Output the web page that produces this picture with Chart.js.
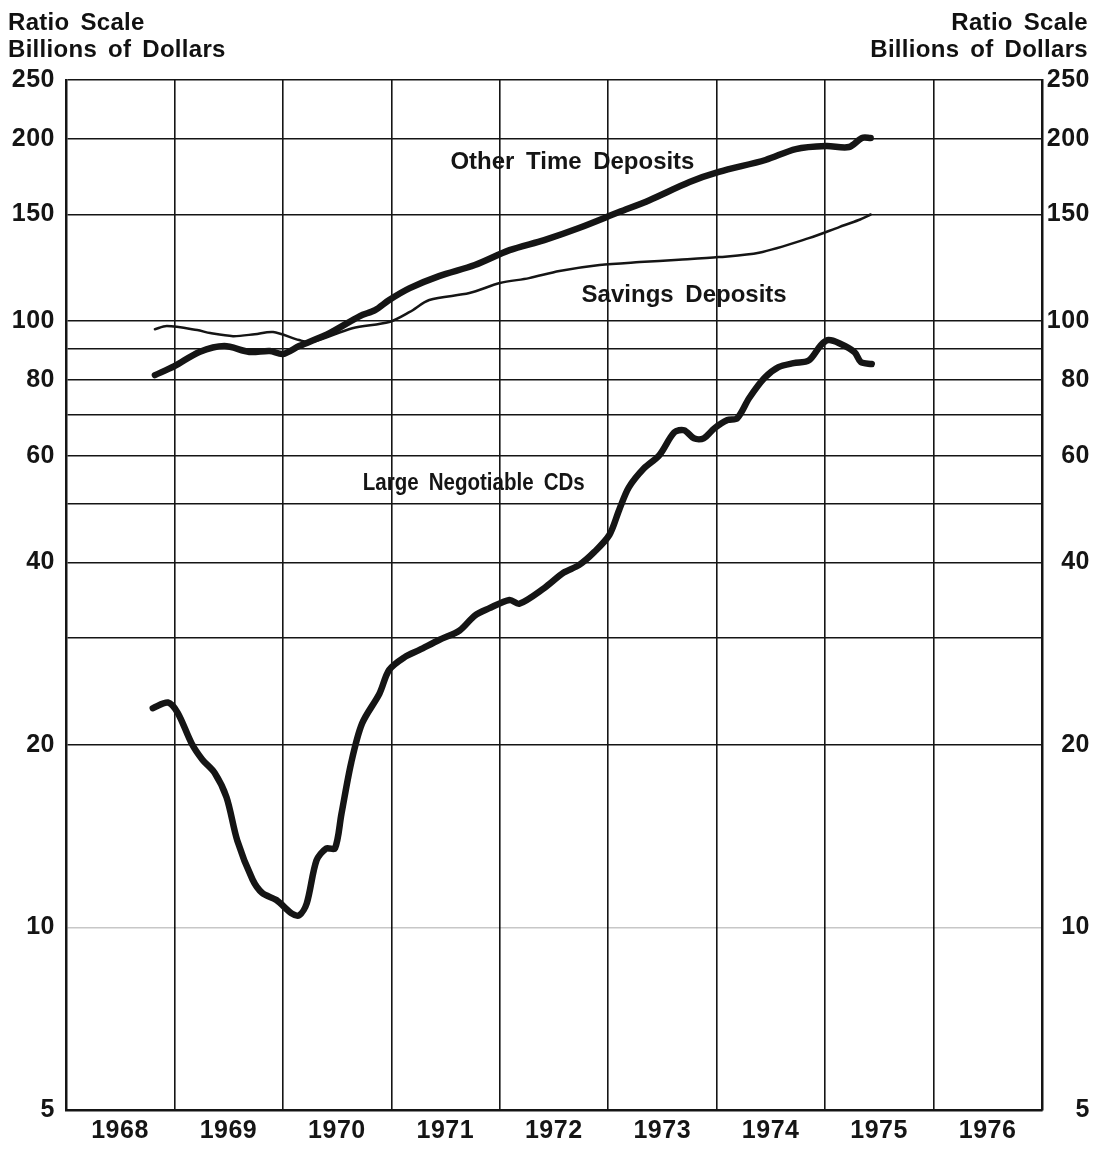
<!DOCTYPE html>
<html>
<head>
<meta charset="utf-8">
<title>Time Deposits at Commercial Banks</title>
<script src="https://cdn.jsdelivr.net/npm/chart.js@4"></script>
<style>
  html, body { margin: 0; padding: 0; background: #fff; }
  #wrap { position: relative; width: 1109px; height: 1157px; }
  .head {
    position: absolute; top: 8px;
    font: bold 24px "Liberation Sans", Arial, sans-serif;
    letter-spacing: 0.3px; word-spacing: 4px; line-height: 27px; color: #111;
  }
  canvas { position: absolute; left: 0; top: 0; }
</style>
</head>
<body>
<div id="wrap">
  <canvas id="chart" width="1109" height="1157"></canvas>
  <div class="head" style="left:8px">Ratio Scale<br>Billions of Dollars</div>
  <div class="head" style="right:21px;text-align:right">Ratio Scale<br>Billions of Dollars</div>
</div>
<script>
const yearLabels = ["1968", "1969", "1970", "1971", "1972", "1973", "1974", "1975", "1976"];
const yGridValues = [5, 10, 20, 30, 40, 50, 60, 70, 80, 90, 100, 150, 200, 250];
const yLabelValues = [5, 10, 20, 40, 60, 80, 100, 150, 200, 250];

// dates as fractions of a year, values in billions of dollars
const otherTimeDates = [1968.82, 1969.00, 1969.23, 1969.46, 1969.69, 1969.88, 1970.00, 1970.15, 1970.43,
  1970.71, 1970.85, 1970.98, 1971.17, 1971.44, 1971.77, 1972.09, 1972.41, 1972.73, 1973.10, 1973.38,
  1973.75, 1974.02, 1974.45, 1974.73, 1975.01, 1975.22, 1975.34, 1975.42];
const otherTimeValues = [81.5, 84.3, 89.0, 91.0, 89.0, 89.3, 88.3, 91.0, 95.6,
  102.0, 104.3, 108.4, 113.4, 118.7, 123.8, 131.0, 136.1, 142.5, 151.4, 158.4,
  169.7, 176.3, 184.5, 192.3, 194.5, 193.8, 200.6, 200.6];

const savingsDates = [1968.82, 1968.93, 1969.21, 1969.33, 1969.54, 1969.74, 1969.91, 1970.15, 1970.27,
  1970.64, 1970.98, 1971.17, 1971.35, 1971.72, 1972.00, 1972.27, 1972.55, 1972.92, 1973.29, 1973.65,
  1974.02, 1974.39, 1974.85, 1975.13, 1975.31, 1975.42];
const savingsValues = [97.0, 98.2, 96.7, 95.6, 94.5, 95.2, 96.0, 93.1, 92.4,
  97.4, 99.7, 103.6, 108.4, 111.3, 115.6, 117.8, 121.0, 123.8, 125.2, 126.3,
  127.6, 129.7, 137.1, 143.0, 146.9, 150.0];

const cdDates = [1968.80, 1968.94, 1969.03, 1969.16, 1969.26, 1969.37, 1969.48, 1969.58, 1969.72, 1969.81,
  1969.94, 1970.08, 1970.15, 1970.22, 1970.31, 1970.40, 1970.48, 1970.54, 1970.63, 1970.73,
  1970.89, 1970.98, 1971.12, 1971.26, 1971.44, 1971.63, 1971.77, 1971.90, 1972.09, 1972.18,
  1972.41, 1972.59, 1972.73, 1972.87, 1973.01, 1973.10, 1973.19, 1973.33, 1973.47, 1973.61,
  1973.70, 1973.79, 1973.88, 1973.98, 1974.10, 1974.19, 1974.30, 1974.44, 1974.57, 1974.71,
  1974.85, 1974.96, 1975.03, 1975.13, 1975.27, 1975.33, 1975.43];
const cdValues = [23.0, 23.5, 22.6, 20.1, 18.9, 18.0, 16.4, 13.9, 12.0, 11.4,
  11.1, 10.55, 10.47, 10.96, 12.9, 13.5, 13.5, 15.4, 18.7, 21.7,
  24.3, 26.6, 27.9, 28.7, 29.8, 30.9, 32.7, 33.6, 34.7, 34.2,
  36.3, 38.5, 39.6, 41.6, 44.4, 48.8, 53.2, 57.2, 60.1, 65.6,
  66.1, 64.1, 64.1, 66.6, 68.7, 69.2, 74.7, 80.6, 84.0, 85.3,
  86.2, 91.3, 93.1, 92.0, 89.0, 85.6, 85.0];

const FONT = '"Liberation Sans", Arial, sans-serif';
const INK = "#151515";

const toPoints = (dates, values) => dates.map((d, i) => ({ x: d, y: values[i] }));

// a little extra spacing, like the original print
const spacing = {
  id: "spacing",
  beforeUpdate(chart) { chart.ctx.letterSpacing = "0.5px"; },
  beforeDraw(chart) { chart.ctx.letterSpacing = "0.5px"; },
};

const seriesNames = {
  id: "seriesNames",
  afterDatasetsDraw(chart) {
    const { ctx, scales } = chart;
    const names = [
      ["Other Time Deposits", 1972.67, 183, 244],
      ["Savings Deposits", 1973.70, 110.5, 214],
      ["Large Negotiable CDs", 1971.76, 54.1, 222],
    ];
    ctx.save();
    ctx.letterSpacing = "0px";
    ctx.wordSpacing = "5px";
    ctx.font = "bold 24px " + FONT;
    ctx.fillStyle = INK;
    ctx.textAlign = "center";
    ctx.textBaseline = "middle";
    names.forEach(([text, x, y, w]) => {
      ctx.fillText(text, scales.x.getPixelForValue(x), scales.y.getPixelForValue(y), w);
    });
    ctx.restore();
  },
};

const yAxis = (position) => ({
  type: "logarithmic",
  position,
  min: 5,
  max: 250,
  afterBuildTicks: (scale) => {
    scale.ticks = yGridValues.map((v) => ({ value: v }));
  },
  afterFit: (scale) => {
    scale.width = position === "left" ? 66 : 48;
  },
  ticks: {
    autoSkip: false,
    padding: position === "left" ? 11 : 5,
    crossAlign: position === "left" ? "near" : "far",
    color: INK,
    font: { family: FONT, size: 25, weight: "bold" },
    callback: (v) => (yLabelValues.includes(v) ? String(v) : ""),
  },
  grid: {
    display: position === "left",
    drawTicks: false,
    lineWidth: 1.6,
    color: (c) => (c.tick && c.tick.value === 10 ? "rgba(0,0,0,0.22)" : INK),
  },
  border: { display: true, color: INK, width: 2.5 },
});

new Chart(document.getElementById("chart"), {
  type: "line",
  data: {
    datasets: [
      {
        label: "Other Time Deposits",
        data: toPoints(otherTimeDates, otherTimeValues),
        borderColor: INK,
        borderWidth: 6.5,
      },
      {
        label: "Savings Deposits",
        data: toPoints(savingsDates, savingsValues),
        borderColor: INK,
        borderWidth: 2.5,
      },
      {
        label: "Large Negotiable CDs",
        data: toPoints(cdDates, cdValues),
        borderColor: INK,
        borderWidth: 6.5,
      },
    ],
  },
  options: {
    responsive: false,
    animation: false,
    devicePixelRatio: 1,
    layout: { padding: { top: 80, left: 0, right: 19, bottom: 0 } },
    elements: {
      point: { radius: 0 },
      line: { tension: 0.3, borderCapStyle: "round", borderJoinStyle: "round" },
    },
    plugins: {
      legend: { display: false },
      tooltip: { enabled: false },
    },
    scales: {
      x: {
        type: "linear",
        min: 1968,
        max: 1977,
        afterBuildTicks: (scale) => {
          scale.ticks = yearLabels.concat(["1977"]).map((y) => ({ value: Number(y) }));
        },
        afterFit: (scale) => {
          scale.height = 47;
        },
        ticks: {
          autoSkip: false,
          maxRotation: 0,
          labelOffset: 54,
          padding: 6,
          color: INK,
          font: { family: FONT, size: 25, weight: "bold" },
          callback: (v) => (yearLabels.includes(String(v)) ? String(v) : ""),
        },
        grid: { drawTicks: false, lineWidth: 1.6, color: INK },
        border: { display: true, color: INK, width: 2.5 },
      },
      y: yAxis("left"),
      y2: yAxis("right"),
    },
  },
  plugins: [spacing, seriesNames],
});
</script>
</body>
</html>
